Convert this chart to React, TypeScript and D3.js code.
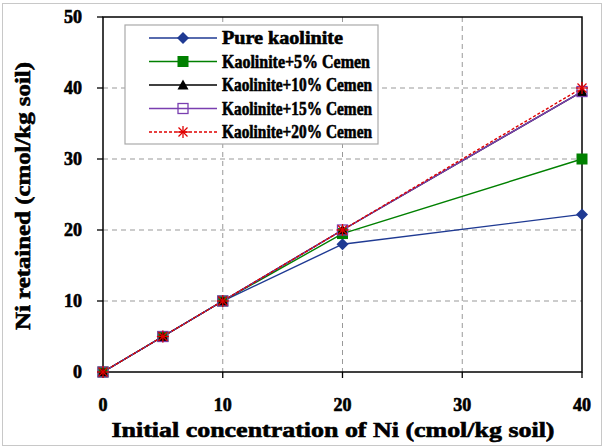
import React from "react";
import * as d3 from "d3";

const xValues = [0, 5, 10, 20, 40];
const pureKaolinite = [0, 5, 10, 18, 22.2];
const cement5 = [0, 5, 10, 19.5, 30];
const cement10 = [0, 5, 10, 20, 39.5];
const cement15 = [0, 5, 10, 20, 39.5];
const cement20 = [0, 5, 10, 20, 40];
const seriesNames = [
  "Pure kaolinite",
  "Kaolinite+5% Cemen",
  "Kaolinite+10% Cemen",
  "Kaolinite+15% Cemen",
  "Kaolinite+20% Cemen",
];
const xTicks = [0, 10, 20, 30, 40];
const yTicks = [0, 10, 20, 30, 40, 50];

const styles = [
  { color: "#1f3a93", marker: "diamond", dash: "", textLen: 121 },
  { color: "#008000", marker: "square", dash: "", textLen: 148 },
  { color: "#000000", marker: "triangle", dash: "", textLen: 150 },
  { color: "#7a3fb0", marker: "open", dash: "", textLen: 150 },
  { color: "#e00000", marker: "star", dash: "3,2", textLen: 150 },
];

const W = 603, H = 448;
const left = 103, right = 582, top = 17, bottom = 372;
const x = d3.scaleLinear().domain([0, 40]).range([left, right]);
const y = d3.scaleLinear().domain([0, 50]).range([bottom, top]);
const txt: React.CSSProperties = {
  fontFamily: "Liberation Serif",
  fontWeight: 700,
  stroke: "#000",
  strokeWidth: 0.6,
};

function Marker({ type, color, cx, cy }: { type: string; color: string; cx: number; cy: number }) {
  if (type === "diamond") {
    const s = 6;
    return <path d={`M${cx},${cy - s}L${cx + s},${cy}L${cx},${cy + s}L${cx - s},${cy}Z`} fill={color} />;
  }
  if (type === "square") {
    return <rect x={cx - 5.5} y={cy - 5.5} width={11} height={11} fill={color} />;
  }
  if (type === "triangle") {
    return <path d={`M${cx},${cy - 5.5}L${cx + 5.5},${cy + 4.5}L${cx - 5.5},${cy + 4.5}Z`} fill={color} />;
  }
  if (type === "open") {
    return <rect x={cx - 5} y={cy - 5} width={10} height={10} fill="none" stroke={color} strokeWidth={1.3} />;
  }
  const r = 6;
  return (
    <g stroke={color} strokeWidth={1.3}>
      <line x1={cx - r} y1={cy} x2={cx + r} y2={cy} />
      <line x1={cx} y1={cy - r} x2={cx} y2={cy + r} />
      <line x1={cx - r * 0.75} y1={cy - r * 0.75} x2={cx + r * 0.75} y2={cy + r * 0.75} />
      <line x1={cx - r * 0.75} y1={cy + r * 0.75} x2={cx + r * 0.75} y2={cy - r * 0.75} />
    </g>
  );
}

export default function App() {
  const allSeries = [pureKaolinite, cement5, cement10, cement15, cement20];
  const line = d3
    .line<number>()
    .x((_, i) => x(xValues[i]))
    .y((d) => y(d));
  const legendX = 125, legendY = 25, legendW = 253, legendH = 119;
  const rowH = 23.5;
  return (
    <svg width={W} height={H} style={{ position: "absolute", left: 0, top: 0 }}>
      <rect x={0} y={0} width={W} height={H} fill="#fff" />
      <rect x={2.5} y={3.5} width={W - 4} height={442} fill="none" stroke="#c8c8c8" strokeWidth={1} />
      {xTicks.filter((t) => t > 0 && t < 40).map((t) => (
        <line key={"gx" + t} x1={x(t)} x2={x(t)} y1={top} y2={bottom} stroke="#999" strokeDasharray="5,4" strokeWidth={1} />
      ))}
      {yTicks.filter((t) => t > 0 && t < 50).map((t) => (
        <line key={"gy" + t} x1={left} x2={right} y1={y(t)} y2={y(t)} stroke="#999" strokeDasharray="5,4" strokeWidth={1} />
      ))}
      <rect x={left} y={top} width={right - left} height={bottom - top} fill="none" stroke="#000" strokeWidth={1.5} />
      {yTicks.map((t) => (
        <g key={"ty" + t}>
          <line x1={left - 6} x2={left} y1={y(t)} y2={y(t)} stroke="#000" strokeWidth={1.3} />
          <text x={82} y={y(t)} dy="0.35em" textAnchor="end" fontSize={18} style={txt}>
            {t}
          </text>
        </g>
      ))}
      {xTicks.map((t) => (
        <g key={"tx" + t}>
          <line x1={x(t)} x2={x(t)} y1={bottom} y2={bottom + 6} stroke="#000" strokeWidth={1.3} />
          <text x={x(t)} y={405} dy="0.35em" textAnchor="middle" fontSize={18} style={txt}>
            {t}
          </text>
        </g>
      ))}
      <text x={333} y={430} dy="0.35em" textAnchor="middle" fontSize={21} style={txt} textLength={443} lengthAdjust="spacingAndGlyphs">
        Initial concentration of Ni (cmol/kg soil)
      </text>
      <text
        transform={`translate(23,196) rotate(-90)`}
        dy="0.35em"
        textAnchor="middle"
        fontSize={21}
        style={txt}
        textLength={268}
        lengthAdjust="spacingAndGlyphs"
      >
        Ni retained (cmol/kg soil)
      </text>
      {allSeries.map((s, si) => (
        <path
          key={"l" + si}
          d={line(s) || ""}
          fill="none"
          stroke={styles[si].color}
          strokeWidth={1.4}
          strokeDasharray={styles[si].dash}
        />
      ))}
      {allSeries.map((s, si) => (
        <g key={"m" + si}>
          {s.map((v, i) => (
            <Marker key={i} type={styles[si].marker} color={styles[si].color} cx={x(xValues[i])} cy={y(v)} />
          ))}
        </g>
      ))}
      <rect x={legendX} y={legendY} width={legendW} height={legendH} fill="#fff" stroke="#aaa" strokeWidth={1.2} />
      {seriesNames.map((n, i) => {
        const cy = legendY + 13 + i * rowH;
        return (
          <g key={"lg" + i}>
            <line x1={149} x2={217} y1={cy} y2={cy} stroke={styles[i].color} strokeWidth={1.4} strokeDasharray={styles[i].dash} />
            <Marker type={styles[i].marker} color={styles[i].color} cx={183} cy={cy} />
            <text x={222} y={cy} dy="0.35em" fontSize={18} style={txt} textLength={styles[i].textLen} lengthAdjust="spacingAndGlyphs">
              {n}
            </text>
          </g>
        );
      })}
    </svg>
  );
}
